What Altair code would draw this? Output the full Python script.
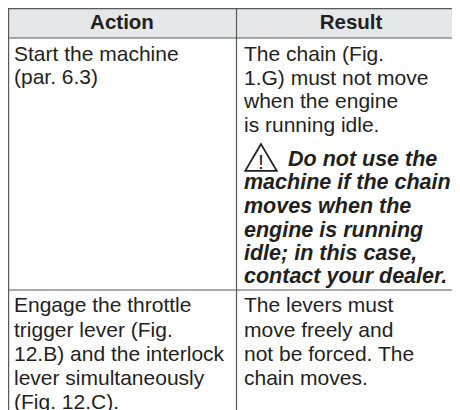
import altair as alt
import pandas as pd

FONT = "Liberation Sans"
INK = "#231f20"
RULE = "#58595b"

headers = ["Action", "Result"]
header_x = [122, 351]

left_lines = ["Start the machine", "(par. 6.3)", "Engage the throttle", "trigger lever (Fig.",
              "12.B) and the interlock", "lever simultaneously", "(Fig. 12.C)."]
left_y = [61, 84, 312, 337, 361, 385, 409]

right_lines = ["The chain (Fig.", "1.G) must not move", "when the engine", "is running idle.",
               "The levers must", "move freely and", "not be forced. The", "chain moves."]
right_y = [61, 85, 108, 132, 312, 337, 361, 385]

warn_lines = ["Do not use the", "machine if the chain", "moves when the", "engine is running",
              "idle; in this case,", "contact your dealer."]
warn_x = [288, 244, 244, 244, 244, 244]
warn_y = [166, 189, 213, 237, 260, 283]

X = alt.Scale(domain=[8, 452], range=[0, 444])
Y = alt.Scale(domain=[8, 410], range=[0, 402])


def xe(f):
    return alt.X(f, type="quantitative", scale=X, axis=None)


def ye(f):
    return alt.Y(f, type="quantitative", scale=Y, axis=None)


def text_layer(df, **kw):
    return alt.Chart(df).mark_text(font=FONT, color=INK, baseline="alphabetic", **kw).encode(
        x=xe("x"), y=ye("y"), text="t:N")


header_bg = alt.Chart(pd.DataFrame({"x": [8], "x2": [452], "y": [8], "y2": [38]})).mark_rect(color="#e6e7e8").encode(
    x=xe("x"), x2="x2", y=ye("y"), y2="y2")

hrules = alt.Chart(pd.DataFrame({"x": [8, 8, 8], "x2": [452, 452, 452], "y": [8.6, 38, 290]})).mark_rule(
    color=RULE, strokeWidth=1.2).encode(y=ye("y"), x=xe("x"), x2="x2")
vrules = alt.Chart(pd.DataFrame({"x": [8.6, 236.5], "y": [8, 8], "y2": [410, 410]})).mark_rule(
    color=RULE, strokeWidth=1.2).encode(x=xe("x"), y=ye("y"), y2="y2")

head = text_layer(pd.DataFrame({"x": header_x, "y": [29, 29], "t": headers}),
                  fontSize=20.5, fontWeight="bold", align="center")
left = text_layer(pd.DataFrame({"x": 14, "y": left_y, "t": left_lines}), fontSize=21, align="left")
right = text_layer(pd.DataFrame({"x": 244, "y": right_y, "t": right_lines}), fontSize=21, align="left")
warn = text_layer(pd.DataFrame({"x": warn_x, "y": warn_y, "t": warn_lines}),
                  fontSize=21.5, fontWeight="bold", fontStyle="italic", align="left")

tri = alt.Chart(pd.DataFrame({"x": [261], "y": [157.5]})).mark_point(
    shape="M0,-0.85 L1,0.85 L-1,0.85 Z", size=990, filled=False, color=INK, strokeWidth=1.8, opacity=1
).encode(x=xe("x"), y=ye("y"))
bang = text_layer(pd.DataFrame({"x": [261], "y": [169], "t": ["!"]}), fontSize=21, align="center")

chart = alt.layer(header_bg, hrules, vrules, head, left, right, warn, tri, bang).properties(
    width=444, height=402, padding=0, autosize=alt.AutoSizeParams(type="none")
).configure_view(stroke=None)

chart.save("out.html", embed_options={"renderer": "svg", "actions": False})
